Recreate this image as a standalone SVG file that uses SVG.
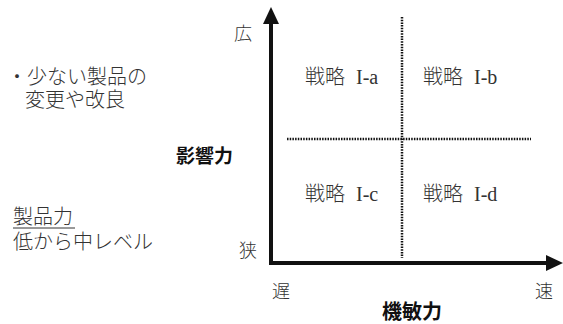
<svg xmlns="http://www.w3.org/2000/svg" width="563" height="324" viewBox="0 0 563 324">
<style>
.t{font-family:"Liberation Serif","Noto Sans CJK JP",serif;font-weight:300;font-size:20px;fill:#333}
.s{font-size:18px}
.b{font-family:"Noto Sans CJK JP",sans-serif;font-weight:700;font-size:19px;fill:#111}
.ax{stroke:#111;stroke-width:4;fill:none}
.dot{stroke:#111;stroke-width:2.5;stroke-dasharray:1.5 1.2;fill:none}
</style>
<defs>
<marker id="ah" markerUnits="userSpaceOnUse" markerWidth="18" markerHeight="18" refX="0" refY="8" orient="auto" viewBox="0 0 18 16">
<path d="M0,0 L17,8 L0,16 Z" fill="#111"/>
</marker>
</defs>
<g id="connectors">
<path class="ax" d="M271,265 V24" marker-end="url(#ah)"/>
<path class="ax" d="M269,263 H546" marker-end="url(#ah)"/>
<path class="dot" d="M402,17 V258"/>
<path class="dot" d="M287,139 H531"/>
</g>
<g id="q-a"><text class="t" x="305" y="84">戦略<tspan x="356">I-a</tspan></text></g>
<g id="q-b"><text class="t" x="423" y="84">戦略<tspan x="474">I-b</tspan></text></g>
<g id="q-c"><text class="t" x="305" y="201">戦略<tspan x="356">I-c</tspan></text></g>
<g id="q-d"><text class="t" x="423" y="201">戦略<tspan x="474">I-d</tspan></text></g>
<g id="labels">
<text class="t s" x="234" y="40">広</text>
<text class="t s" x="239" y="257">狭</text>
<text class="t s" x="272" y="298">遅</text>
<text class="t s" x="535" y="298">速</text>
<text class="b" x="176" y="163">影響力</text>
<text class="b" x="382" y="319" style="font-size:20px">機敏力</text>
</g>
<g id="note">
<text class="t" x="7" y="84">・少ない製品の</text>
<text class="t" x="25" y="107">変更や改良</text>
<text class="t" x="13" y="224">製品力</text>
<line x1="13" y1="228" x2="75" y2="228" stroke="#333" stroke-width="1"/>
<text class="t" x="13" y="249">低から中レベル</text>
</g>
</svg>
